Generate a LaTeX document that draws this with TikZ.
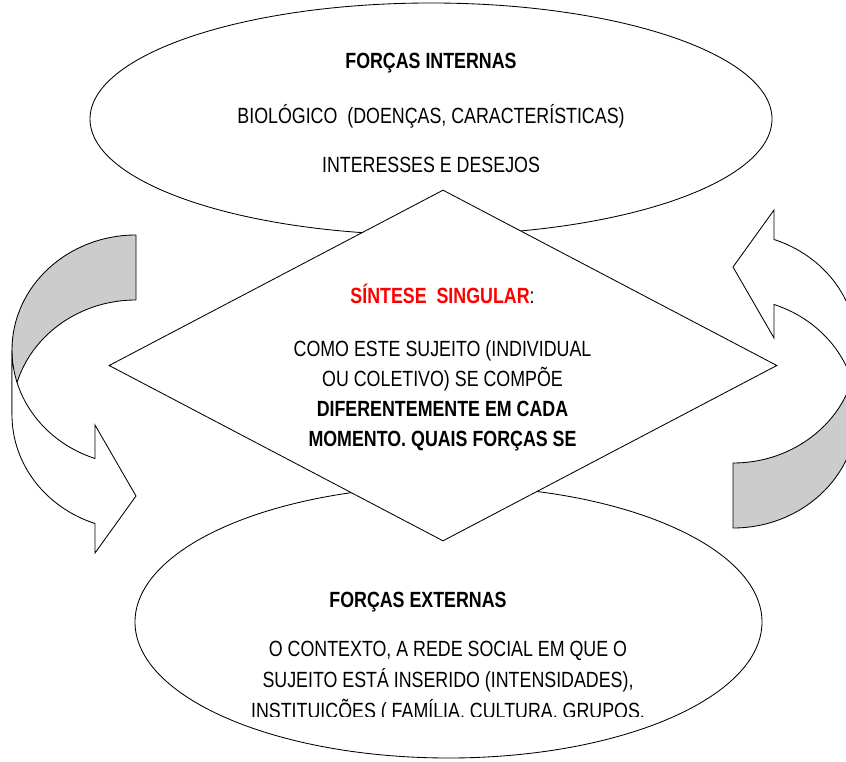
\documentclass[tikz,border=0pt]{standalone}
\usepackage{fontspec}
\setmainfont{Liberation Sans}[FakeStretch=0.81]
\usetikzlibrary{shapes.geometric}
\definecolor{backgray}{RGB}{204,204,204}
\definecolor{synred}{RGB}{255,0,0}
\tikzset{
  outline/.style={draw=black, line width=0.85pt, line join=miter},
  bubble/.style={ellipse, outline, fill=white, inner sep=0pt},
  rhomb/.style={diamond, outline, fill=white, inner sep=0pt},
  txt/.style={anchor=base, inner sep=0pt, font=\fontsize{22}{26}\selectfont},
  btxt/.style={txt, font=\fontsize{22}{26}\selectfont\bfseries},
}
\newcommand{\bandarrow}{%
  % back (grey) face of the curved band
  \path[outline, fill=backgray] (136,526)
     arc[start angle=90, end angle=180, x radius=124, y radius=115]
     -- (12,346)
     arc[start angle=180, end angle=90, x radius=124, y radius=115]
     -- cycle;
  % front (white) face with the arrow head
  \path[outline, fill=white] (12,346)
     arc[start angle=180, end angle=250.69, x radius=124, y radius=115]
     -- (95,208) -- (136,265) -- (95,336) -- (95,302.5)
     arc[start angle=250.69, end angle=180, x radius=124, y radius=115]
     -- cycle;
}
\begin{document}
\begin{tikzpicture}[x=1pt, y=1pt]
\useasboundingbox (0,0) rectangle (846,761);
\clip (0,0) rectangle (846,761);
% curved arrows
\begin{scope}
  \bandarrow
\end{scope}
\begin{scope}[rotate around={180:(434.5,379.5)}]
  \bandarrow
\end{scope}
% ellipses and diamond
\node[bubble, minimum width=682pt, minimum height=232pt] (internas) at (431,642) {};
\node[bubble, minimum width=627pt, minimum height=272pt] (externas) at (448.5,139) {};
\node[rhomb, minimum width=668pt, minimum height=351pt] (sintese) at (443,395.5) {};
% top texts
\node[btxt] (t1) at (431,692) {FORÇAS INTERNAS};
\node[txt] (t2) at (431,637) {BIOLÓGICO\ \ (DOENÇAS, CARACTERÍSTICAS)};
\node[txt] (t3) at (431,588) {INTERESSES E DESEJOS};
% diamond texts
\node[txt] (d1) at (442.5,457) {\textcolor{synred}{\bfseries SÍNTESE\ \ SINGULAR}:};
\node[txt] (d2) at (442.5,404) {COMO ESTE SUJEITO (INDIVIDUAL};
\node[txt] (d3) at (442.5,374) {OU COLETIVO) SE COMPÕE};
\node[btxt] (d4) at (442.5,344) {DIFERENTEMENTE EM CADA};
\node[btxt] (d5) at (442.5,314) {MOMENTO. QUAIS FORÇAS SE};
% bottom texts
\node[btxt] (b1) at (418,154) {FORÇAS EXTERNAS};
\node[txt] (b2) at (448,105) {O CONTEXTO, A REDE SOCIAL EM QUE O};
\node[txt] (b3) at (448,74) {SUJEITO ESTÁ INSERIDO (INTENSIDADES),};
\begin{scope}
  \clip (0,44.5) rectangle (846,761);
  \node[txt] (b4) at (448,42.5) {INSTITUIÇÕES ( FAMÍLIA, CULTURA, GRUPOS,};
\end{scope}
\end{tikzpicture}
\end{document}
